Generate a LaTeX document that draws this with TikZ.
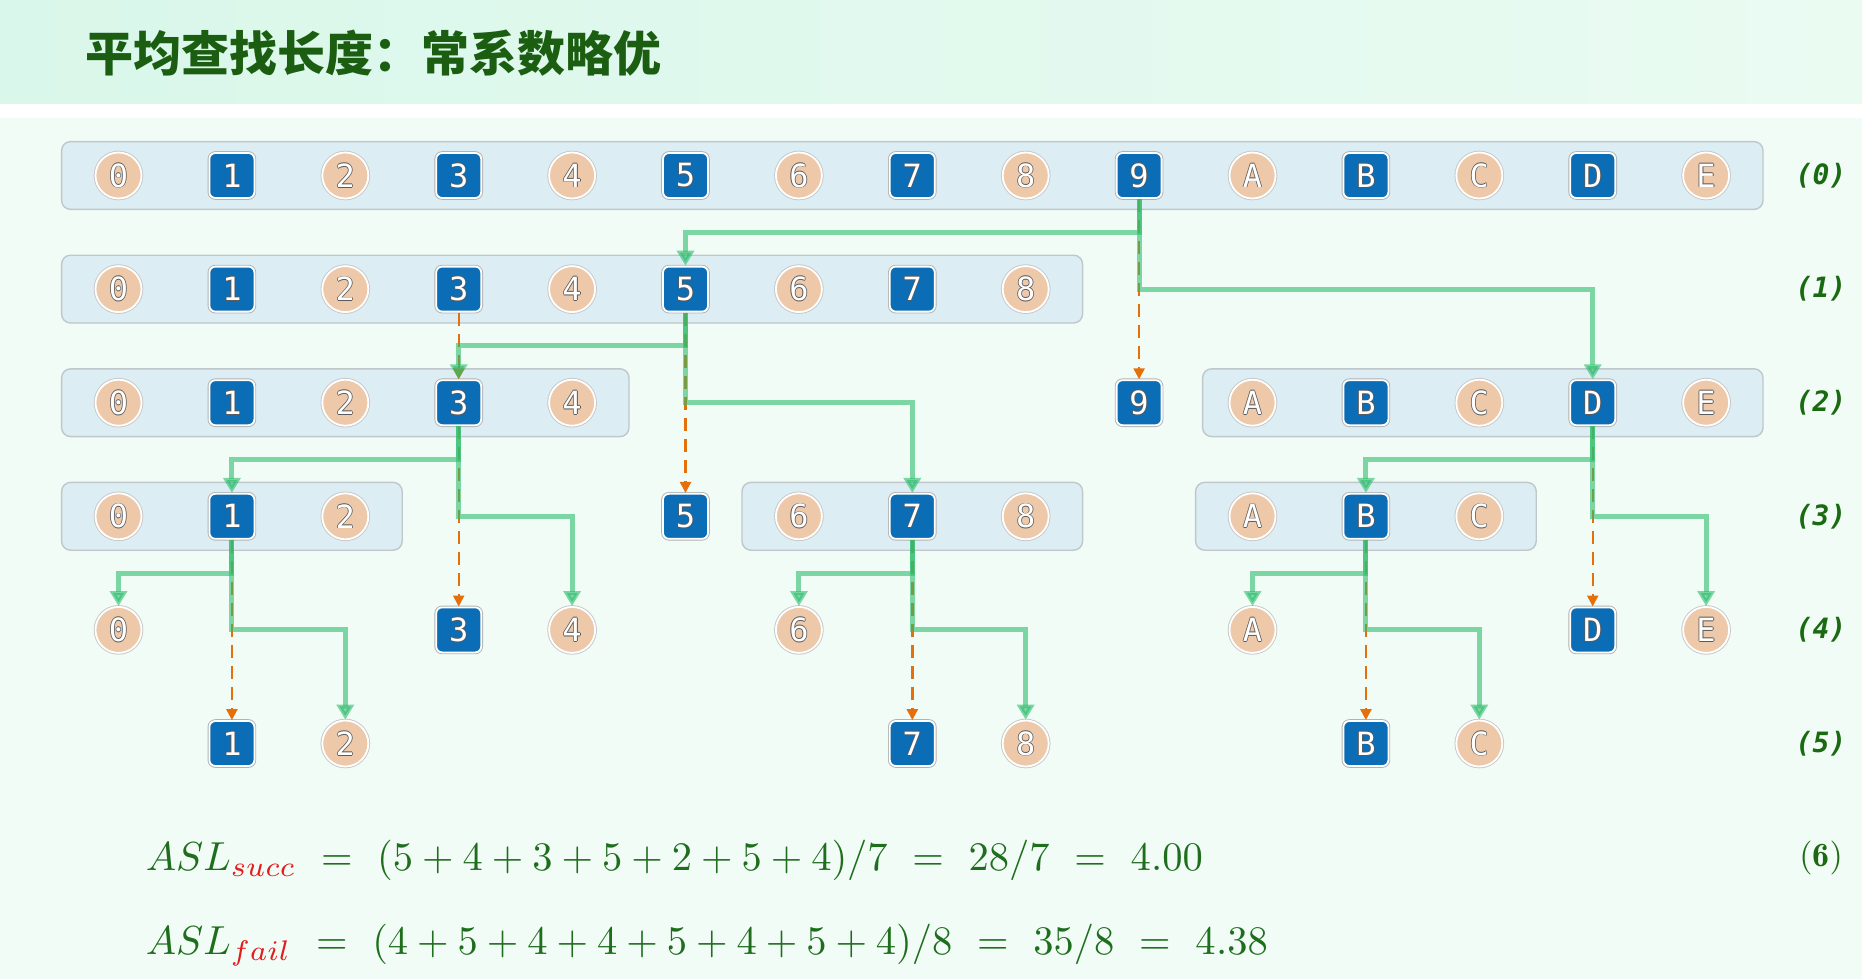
\documentclass[tikz,border=0pt]{standalone}
\usepackage{fontspec}
\usetikzlibrary{arrows.meta,fit,backgrounds}
\newfontfamily\cjk{Noto Sans CJK SC}
\newfontfamily\monof{DejaVu Sans Mono}
\definecolor{pagebg}{HTML}{F2FCF6}
\definecolor{bandL}{HTML}{D9F7EA}
\definecolor{bandR}{HTML}{EAFBF2}
\definecolor{titlegreen}{HTML}{1B5E12}
\definecolor{boxfill}{HTML}{DCEEF3}
\definecolor{boxline}{HTML}{BFC7CB}
\definecolor{sqblue}{HTML}{0B6DB6}
\definecolor{peach}{HTML}{EDC8A9}
\definecolor{lgreen}{HTML}{2CBD6D}
\definecolor{dorange}{HTML}{E56F0A}
\definecolor{lblgreen}{HTML}{1A6A12}
\definecolor{fgreen}{HTML}{1E6E1E}
\definecolor{fred}{HTML}{E41B1B}
\definecolor{txtol}{HTML}{5A5A5A}
\newcommand\olt[1]{\leavevmode\rlap{\color{txtol}\kern0.8pt#1}\rlap{\color{txtol}\kern-0.8pt#1}\rlap{\color{txtol}\raisebox{0.8pt}{#1}}\rlap{\color{txtol}\raisebox{-0.8pt}{#1}}#1}
\tikzset{
  sqnode/.style={rectangle, rounded corners=6pt, fill=sqblue, draw=white, line width=1.8pt,
    minimum width=45pt, minimum height=45pt, inner sep=0pt, text=white,
    font=\monof\fontsize{32}{32}\selectfont, preaction={draw=black!30, line width=3.6pt}},
  cinode/.style={circle, fill=peach, draw=white, line width=1.8pt,
    minimum size=46pt, inner sep=0pt, text=white,
    font=\monof\fontsize{32}{32}\selectfont, preaction={draw=black!22, line width=3.6pt}},
  rowbox/.style={rectangle, rounded corners=9pt, fill=boxfill, draw=boxline, line width=1.4pt,
    inner xsep=33pt, inner ysep=10pt},
  gline/.style={draw=lgreen, line width=5pt, opacity=0.6, -{Triangle[width=17pt,length=15pt]}},
  oline/.style={draw=dorange, line width=2.4pt, dash pattern=on 13pt off 8pt,
    -{Triangle[width=11pt,length=11pt]}},
  rowlbl/.style={text=lblgreen, font=\monof\bfseries\itshape\fontsize{28}{28}\selectfont, inner sep=0pt},
  formula/.style={anchor=west, text=fgreen, inner sep=0pt, scale=4.05, transform shape}
}
\newcommand\mk[3]{%
  \ifodd#2\relax
    \node[sqnode] (r#1n#3) at ({118.5+113.4*#2},{175.5+113.6*#1}) {\olt{#3}};
  \else
    \node[cinode] (r#1n#3) at ({118.5+113.4*#2},{175.5+113.6*#1}) {\olt{#3}};
  \fi}
\newcommand\branch[4]{%
  \draw[oline] (#1.south) -- (#4.north);
  \draw[gline] (#1.south) -- ++(0,33.4) -| (#2.north);
  \draw[gline] (#1.south) -- ++(0,90.1) -| (#3.north);}
\begin{document}
\begin{tikzpicture}[x=1pt,y=-1pt]
\useasboundingbox (0,0) rectangle (1862,979);
% nodes
\foreach \i/\l in {0/0,1/1,2/2,3/3,4/4,5/5,6/6,7/7,8/8,9/9,10/A,11/B,12/C,13/D,14/E} {\mk{0}{\i}{\l}}
\foreach \i/\l in {0/0,1/1,2/2,3/3,4/4,5/5,6/6,7/7,8/8} {\mk{1}{\i}{\l}}
\foreach \i/\l in {0/0,1/1,2/2,3/3,4/4,9/9,10/A,11/B,12/C,13/D,14/E} {\mk{2}{\i}{\l}}
\foreach \i/\l in {0/0,1/1,2/2,5/5,6/6,7/7,8/8,10/A,11/B,12/C} {\mk{3}{\i}{\l}}
\foreach \i/\l in {0/0,3/3,4/4,6/6,10/A,13/D,14/E} {\mk{4}{\i}{\l}}
\foreach \i/\l in {1/1,2/2,7/7,8/8,11/B,12/C} {\mk{5}{\i}{\l}}
% background, title band, row boxes
\begin{scope}[on background layer]
  \fill[pagebg] (0,0) rectangle (1862,979);
  \shade[left color=bandL, right color=bandR] (0,0) rectangle (1862,104);
  \fill[white] (0,104) rectangle (1862,118);
  \node[rowbox, fit=(r0n0)(r0nE)] (b0) {};
  \node[rowbox, fit=(r1n0)(r1n8)] (b1) {};
  \node[rowbox, fit=(r2n0)(r2n4)] (b2a) {};
  \node[rowbox, fit=(r2nA)(r2nE), inner xsep=29.5pt, xshift=3.5pt] (b2b) {};
  \node[rowbox, fit=(r3n0)(r3n2)] (b3a) {};
  \node[rowbox, fit=(r3n6)(r3n8)] (b3b) {};
  \node[rowbox, fit=(r3nA)(r3nC)] (b3c) {};
\end{scope}
% title
\node[anchor=west, text=titlegreen, inner sep=0pt, font=\cjk\bfseries\fontsize{48}{48}\selectfont] (title) at (85,53) {平均查找长度：常系数略优};
% connectors
\draw[oline] (r1n3.south) -- (r2n3.north);
\branch{r0n9}{r1n5}{r2nD}{r2n9}
\branch{r1n5}{r2n3}{r3n7}{r3n5}
\branch{r2n3}{r3n1}{r4n4}{r4n3}
\branch{r2nD}{r3nB}{r4nE}{r4nD}
\branch{r3n1}{r4n0}{r5n2}{r5n1}
\branch{r3n7}{r4n6}{r5n8}{r5n7}
\branch{r3nB}{r4nA}{r5nC}{r5nB}
% row labels
\foreach \r in {0,...,5} {\node[rowlbl] (lbl\r) at (1821,{175.5+113.6*\r}) {(\r)};}
\begin{scope}[shift={(1821,858)}]
\node[text=lblgreen, inner sep=0pt, scale=3.4, transform shape] (lbl6) at (0,0) {$\mathbf{(6)}$};
\end{scope}
% formulas
\begin{scope}[shift={(145,860)}]
\node[formula] (f1) at (0,0) {$ASL_{\color{fred}succ}\ =\ (5+4+3+5+2+5+4)/7\ =\ 28/7\ =\ 4.00$};
\end{scope}
\begin{scope}[shift={(145,945)}]
\node[formula] (f2) at (0,0) {$ASL_{\color{fred}fail}\ =\ (4+5+4+4+5+4+5+4)/8\ =\ 35/8\ =\ 4.38$};
\end{scope}
\end{tikzpicture}
\end{document}
